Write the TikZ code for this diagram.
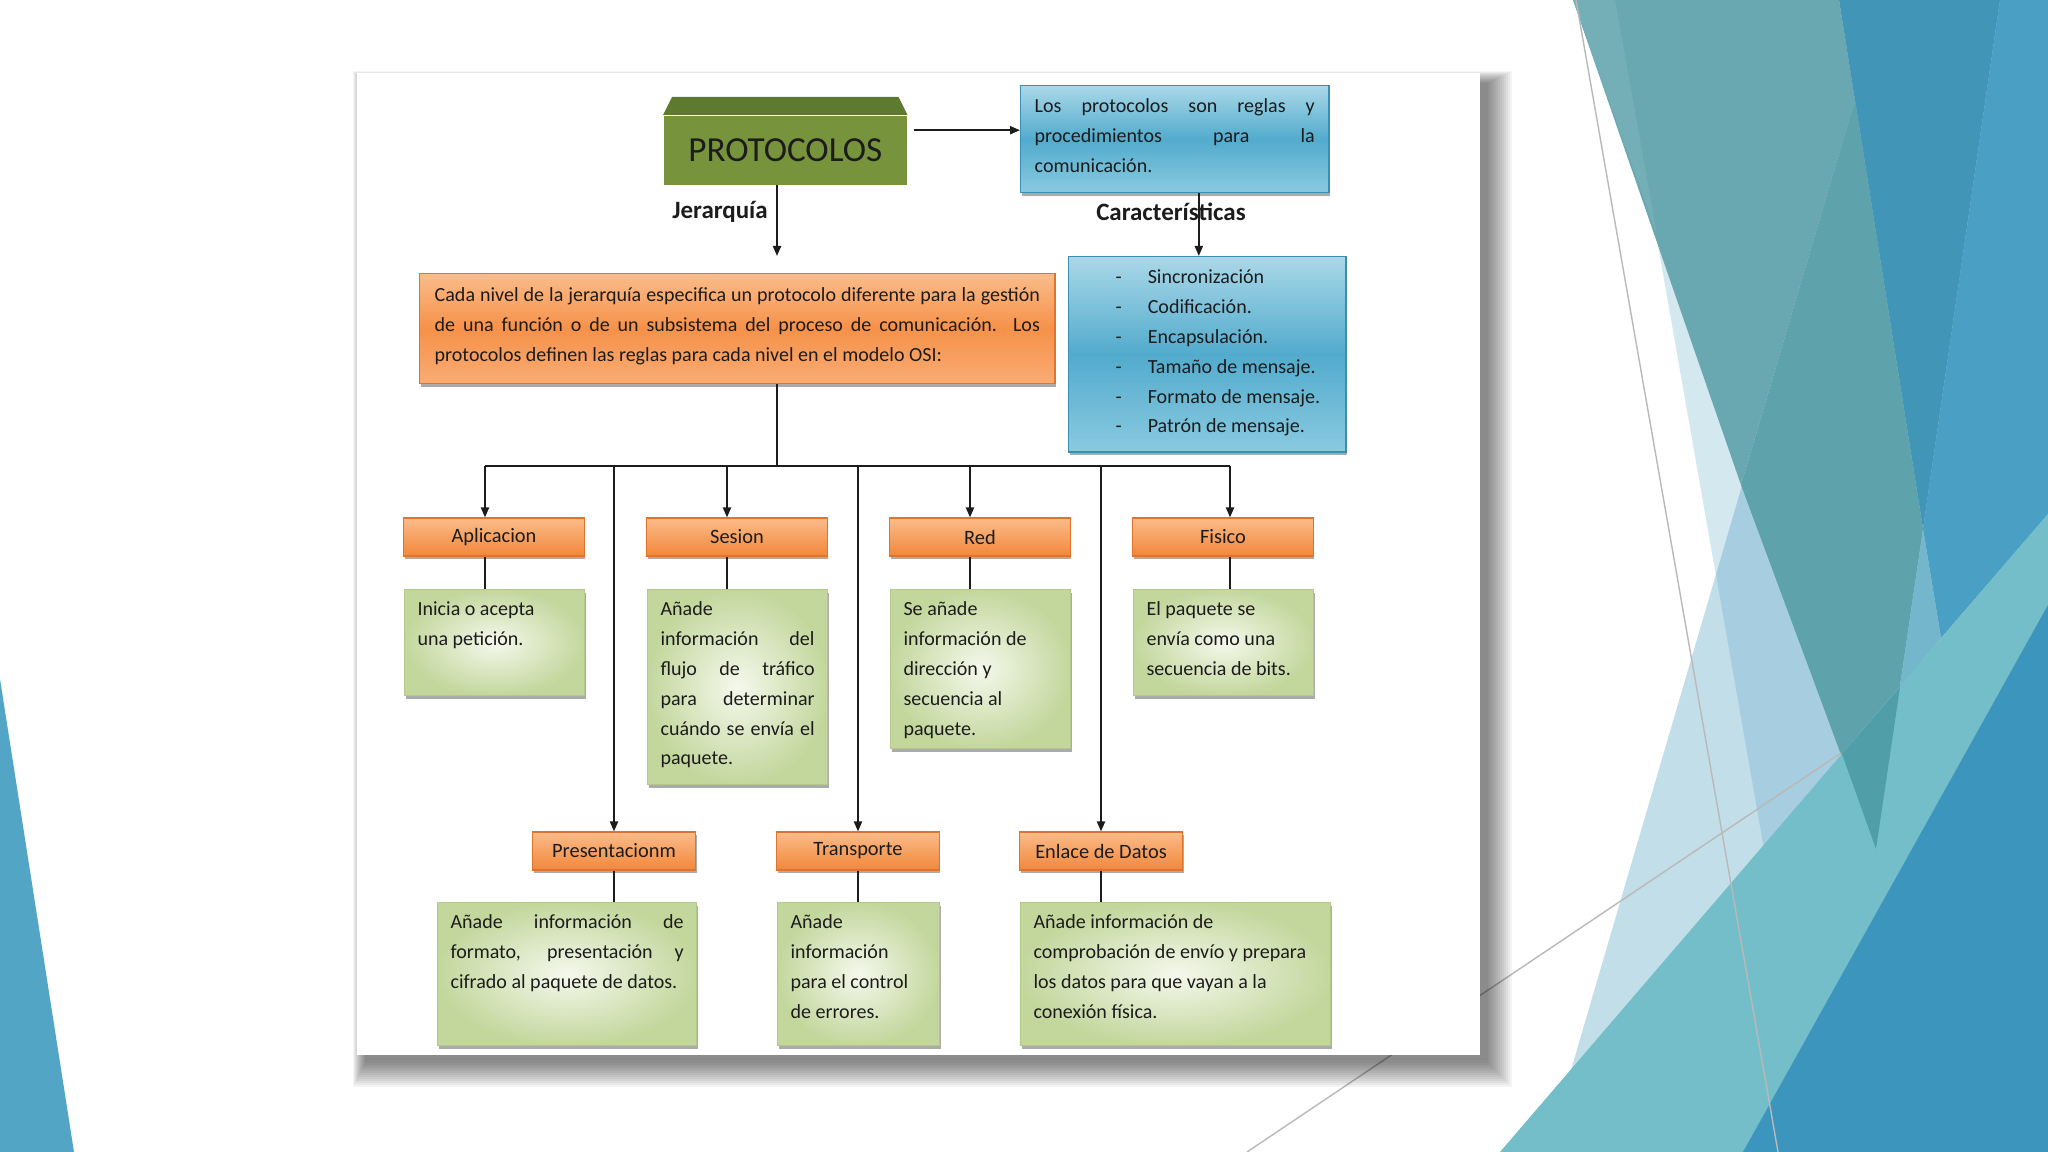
\documentclass[tikz,border=0pt]{standalone}
\usepackage{fontspec}
\setmainfont{Carlito}
\usetikzlibrary{arrows.meta,shadows}

% colores
\definecolor{inkc}{HTML}{1C1C1C}
\definecolor{protogreen}{HTML}{77933C}
\definecolor{protodark}{HTML}{5E7A2E}
\definecolor{bluetop}{HTML}{AAD8E8}
\definecolor{bluemid}{HTML}{52ABCD}
\definecolor{bluebot}{HTML}{8ACAE0}
\definecolor{blueline}{HTML}{3A8DB3}
\definecolor{orangetop}{HTML}{FBBC8A}
\definecolor{orangemid}{HTML}{F6914A}
\definecolor{orangebot}{HTML}{F9AC74}
\definecolor{orangedeep}{HTML}{F2873B}
\definecolor{orangeline}{HTML}{E0742C}
\definecolor{greenin}{HTML}{F5F8EC}
\definecolor{greenout}{HTML}{C3D79D}
\definecolor{greenline}{HTML}{B3C98A}
% fondo
\definecolor{bgleft}{HTML}{52A5C4}
\definecolor{bglight}{HTML}{D4E8F0}
\definecolor{bgpale}{HTML}{C2DEE9}
\definecolor{bgsky}{HTML}{A6CEE0}
\definecolor{bgteal}{HTML}{6AA8B1}
\definecolor{bgtealhi}{HTML}{74AFB7}
\definecolor{bgtealdk}{HTML}{5EA3AC}
\definecolor{bgblue}{HTML}{4196B8}
\definecolor{bgbluehi}{HTML}{4AA0C4}
\definecolor{bgice}{HTML}{74B7CC}
\definecolor{bgband}{HTML}{74BEC9}
\definecolor{bgbanddk}{HTML}{4F9EA8}
\definecolor{bgdeep}{HTML}{3C95BD}

\newcommand{\boxtext}[3]{\parbox[t][#2][t]{#1}{#3}}
\newcommand{\jline}[1]{\makebox[\linewidth][s]{#1}}

\tikzset{
  link/.style={line width=0.55pt, draw=inkc},
  arrow/.style={link, -{Triangle[length=0.1cm,width=0.08cm]}},
  boxshadow/.style={drop shadow={shadow xshift=0.012cm, shadow yshift=-0.03cm, opacity=0.5, fill=black!65}},
  bodyfont/.style={font=\fontsize{5.7}{8.5}\selectfont, text=inkc},
  protobox/.style={fill=protogreen, text=inkc, font=\fontsize{10}{12}\selectfont, inner sep=0pt},
  bluebox/.style={boxshadow, draw=blueline, line width=0.4pt, top color=bluetop, bottom color=bluebot, middle color=bluemid, anchor=north west, inner xsep=0.14cm, inner ysep=0.13cm, bodyfont},
  bigorange/.style={boxshadow, draw=orangeline, line width=0.4pt, top color=orangetop, bottom color=orangebot, middle color=orangemid, anchor=north west, inner xsep=0.15cm, inner ysep=0.14cm, bodyfont},
  hdr/.style={boxshadow, draw=orangeline, line width=0.3pt, top color=orangetop, bottom color=orangedeep, inner sep=0pt, minimum height=0.38cm, text=inkc, font=\fontsize{5.8}{7}\selectfont},
  descbox/.style={boxshadow, draw=greenline, line width=0.3pt, inner color=greenin, outer color=greenout, anchor=north west, inner xsep=0.13cm, inner ysep=0.12cm, bodyfont},
  lbl/.style={font=\bfseries\fontsize{7.1}{8.5}\selectfont, text=inkc, inner sep=0pt}
}

\begin{document}
\begin{tikzpicture}[x=0.01cm, y=-0.01cm]
  \useasboundingbox (0,0) rectangle (2048,1152);

  % fondo de la diapositiva
  \fill[white] (0,0) rectangle (2048,1152);
  \fill[bgleft] (0,679) -- (74,1152) -- (0,1152) -- cycle;
  \fill[bglight] (1615,0) -- (2048,0) -- (2048,1152) -- (1817,1152) -- cycle;
  \fill[bgpale] (1884,0) -- (2048,0) -- (2048,1152) -- (1547,1152) -- cycle;
  \fill[bgsky] (1884,0) -- (2048,0) -- (2048,1152) -- (1817,1152) -- (1716,575) -- cycle;
  \fill[bgteal] (1573,0) -- (1839,0) -- (1855,100) -- (1741,485) -- cycle;
  \fill[bgtealhi] (1573,0) -- (1615,0) -- (1657,235) -- cycle;
  \fill[bgblue] (1839,0) -- (2000,0) -- (1923,529) -- cycle;
  \fill[bgtealdk] (1855,100) -- (1923,529) -- (1876,849) -- (1741,485) -- cycle;
  \fill[bgbluehi] (2000,0) -- (2048,0) -- (2048,514) -- (1941,638) -- (1923,529) -- cycle;
  \fill[bgice] (1923,529) -- (1941,638) -- (1900,687) -- cycle;
  \fill[bgband] (1500,1152) -- (2048,514) -- (2048,1152) -- cycle;
  \fill[bgbanddk] (1842,754) -- (1900,687) -- (1876,849) -- cycle;
  \fill[bgdeep] (2048,605) -- (2048,1152) -- (1743,1152) -- cycle;
  \draw[gray!55, line width=0.4pt] (1247,1152) -- (1841,753);
  \draw[gray!55, line width=0.4pt] (1576,0) -- (1778,1152);

  % hoja con sombra
  \foreach \r in {0,2,...,24}{
    \fill[black, opacity=0.045] ({365-\r/2},{83-\r/2}) rectangle ({1488+\r},{1063+\r});
  }
  \fill[white] (357,73) rectangle (1480,1055);

  % PROTOCOLOS
  \node[protobox, anchor=north west, minimum width=2.43cm, minimum height=0.69cm] (proto) at (663,115) {PROTOCOLOS};
  \fill[protodark] (proto.north west) -- ([xshift=0.09cm,yshift=0.18cm]proto.north west)
    -- ([xshift=-0.09cm,yshift=0.18cm]proto.north east) -- (proto.north east) -- cycle;

  \node[bluebox] (defbox) at (1020,85) {\boxtext{2.80cm}{0.81cm}{%
    \jline{Los protocolos son reglas y}\\
    \jline{procedimientos para la}\\
    comunicación.}};

  \node[lbl] (jer) at (720,212) {Jerarquía};
  \node[lbl] (car) at (1171,212) {Características};

  \node[bigorange] (main) at (419,273) {\boxtext{6.05cm}{0.82cm}{%
    \jline{Cada nivel de la jerarquía especifica un protocolo diferente para la gestión}\\
    \jline{de una función o de un subsistema del proceso de comunicación. Los}\\
    protocolos definen las reglas para cada nivel en el modelo OSI:}};

  \node[bluebox] (charbox) at (1068,256) {\boxtext{2.49cm}{1.69cm}{%
    \hspace*{0.33cm}\makebox[0.32cm][l]{-}Sincronización\\
    \hspace*{0.33cm}\makebox[0.32cm][l]{-}Codificación.\\
    \hspace*{0.33cm}\makebox[0.32cm][l]{-}Encapsulación.\\
    \hspace*{0.33cm}\makebox[0.32cm][l]{-}Tamaño de mensaje.\\
    \hspace*{0.33cm}\makebox[0.32cm][l]{-}Formato de mensaje.\\
    \hspace*{0.33cm}\makebox[0.32cm][l]{-}Patrón de mensaje.}};

  % capas superiores
  \node[hdr, minimum width=1.80cm] (apl) at (494,537) {Aplicacion};
  \node[hdr, minimum width=1.80cm] (ses) at (737,537) {Sesion};
  \node[hdr, minimum width=1.80cm] (red) at (980,537) {Red};
  \node[hdr, minimum width=1.80cm] (fis) at (1223,537) {Fisico};

  \node[descbox] (dapl) at (404,589) {\boxtext{1.54cm}{0.82cm}{Inicia o acepta\\ una petición.}};
  \node[descbox] (dses) at (647,589) {\boxtext{1.54cm}{1.71cm}{%
    Añade\\
    \jline{información del}\\
    \jline{flujo de tráfico}\\
    \jline{para determinar}\\
    \jline{cuándo se envía el}\\
    paquete.}};
  \node[descbox] (dred) at (890,589) {\boxtext{1.54cm}{1.35cm}{Se añade\\ información de\\ dirección y\\ secuencia al\\ paquete.}};
  \node[descbox] (dfis) at (1133,589) {\boxtext{1.54cm}{0.82cm}{El paquete se\\ envía como una\\ secuencia de bits.}};

  % capas inferiores
  \node[hdr, minimum width=1.63cm] (pre) at (614,851) {Presentacionm};
  \node[hdr, minimum width=1.62cm] (tra) at (858,851) {Transporte};
  \node[hdr, minimum width=1.63cm] (enl) at (1101,851) {Enlace de Datos};

  \node[descbox] (dpre) at (437,902) {\boxtext{2.33cm}{1.19cm}{%
    \jline{Añade información de}\\
    \jline{formato, presentación y}\\
    cifrado al paquete de datos.}};
  \node[descbox] (dtra) at (777,902) {\boxtext{1.36cm}{1.19cm}{Añade\\ información\\ para el control\\ de errores.}};
  \node[descbox] (denl) at (1020,902) {\boxtext{2.84cm}{1.19cm}{Añade información de\\ comprobación de envío y prepara\\ los datos para que vayan a la\\ conexión física.}};

  % conectores
  \coordinate (jtip) at (777,256);
  \coordinate (bus) at (777,466);
  \draw[arrow] ([xshift=0.06cm,yshift=0.2cm]proto.east) -- ([yshift=0.2cm]proto.east -| defbox.west);
  \draw[arrow] (proto.south -| jtip) -- (jtip);
  \draw[arrow] ([xshift=0.24cm]defbox.south) -- ([xshift=0.24cm]defbox.south |- charbox.north);
  \draw[link] (main.south -| bus) -- (bus);
  \draw[link] ([xshift=-0.09cm]apl.north |- bus) -- ([xshift=0.07cm]fis.north |- bus);
  \foreach \n/\dx in {apl/-0.09,ses/-0.10,red/-0.10,fis/0.07}{
    \draw[arrow] ([xshift=\dx cm]\n.north |- bus) -- ([xshift=\dx cm]\n.north);
    \draw[link] ([xshift=\dx cm]\n.south) -- ([xshift=\dx cm]\n.south |- d\n.north);
  }
  \foreach \n in {pre,tra,enl}{
    \draw[arrow] (\n.north |- bus) -- (\n.north);
    \draw[link] (\n.south) -- (\n.south |- d\n.north);
  }
\end{tikzpicture}
\end{document}
